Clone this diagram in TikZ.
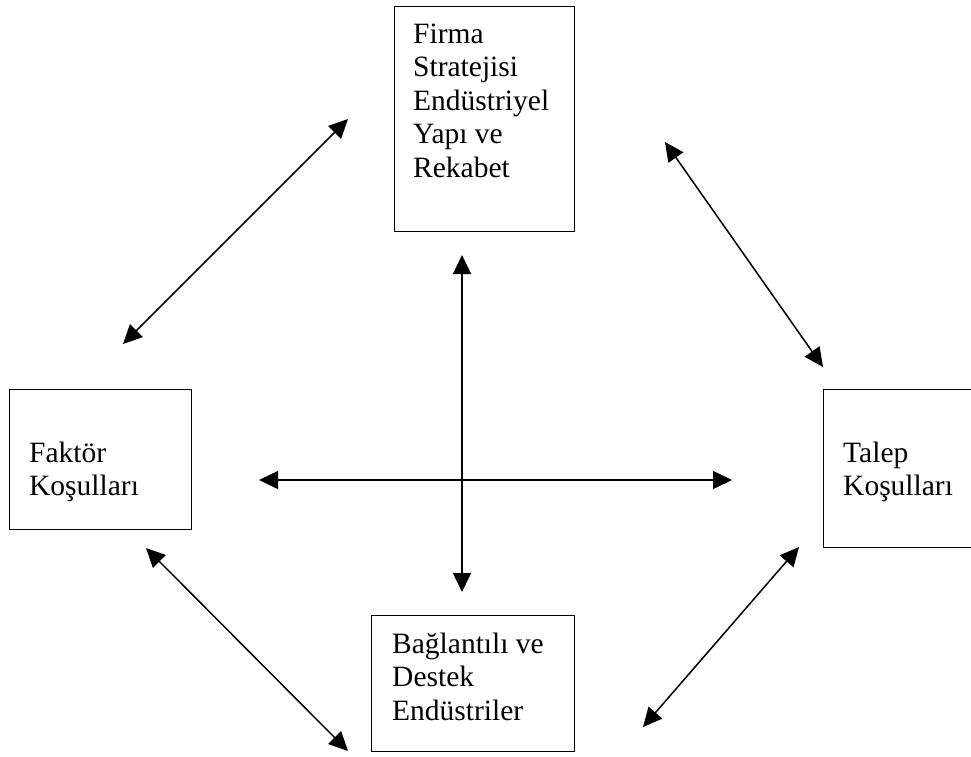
\documentclass[tikz,border=0pt]{standalone}
\usepackage{fontspec}
\setmainfont{Liberation Serif}
\usetikzlibrary{arrows.meta}
\tikzset{
  boxshape/.style={draw, line width=1.3pt, inner sep=0pt, anchor=north west},
  boxtext/.style={anchor=base west, inner sep=0pt, font=\fontsize{29.5}{33.5}\selectfont},
  link/.style={line width=1.5pt, {Triangle[length=19pt,width=18pt]}-{Triangle[length=19pt,width=18pt]}},
}
\newcommand{\lines}[1]{\begin{tabular}[t]{@{}l@{}}#1\end{tabular}}
\begin{document}
\begin{tikzpicture}[x=1pt,y=-1pt]
\useasboundingbox (0,0) rectangle (971,756);
% boxes
\node[boxshape, minimum width=180pt, minimum height=225pt] (firma) at (394,6) {};
\node[boxshape, minimum width=182pt, minimum height=140pt] (faktor) at (9,389) {};
\node[boxshape, minimum width=170pt, minimum height=158pt] (talep) at (823,389) {};
\node[boxshape, minimum width=203pt, minimum height=136pt] (baglanti) at (371,615) {};
% texts
\node[boxtext] (firmatxt) at (413,43) {\lines{Firma\\Stratejisi\\Endüstriyel\\Yapı ve\\Rekabet}};
\node[boxtext] (faktortxt) at (29,462) {\lines{Faktör\\Koşulları}};
\node[boxtext] (taleptxt) at (843,462) {\lines{Talep\\Koşulları}};
\node[boxtext] (baglantitxt) at (392,653) {\lines{Bağlantılı ve\\Destek\\Endüstriler}};
% arrow end points
\coordinate (a1) at (348,119);
\coordinate (a2) at (123,344);
\coordinate (b1) at (665,142);
\coordinate (b2) at (823,367);
\coordinate (c1) at (146,548);
\coordinate (c2) at (348,751);
\coordinate (d1) at (799,547);
\coordinate (d2) at (643,727);
\coordinate (h1) at (259,480);
\coordinate (h2) at (732,480);
\coordinate (v1) at (462,255);
\coordinate (v2) at (462,592);
\draw[link] (a1) -- (a2);
\draw[link] (b1) -- (b2);
\draw[link] (c1) -- (c2);
\draw[link] (d1) -- (d2);
\draw[link] (h1) -- (h2);
\draw[link] (v1) -- (v2);
\end{tikzpicture}
\end{document}
